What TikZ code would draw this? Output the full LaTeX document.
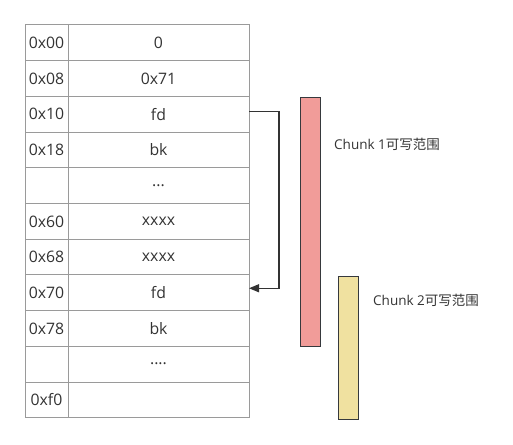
\documentclass[tikz,border=0pt]{standalone}
\usepackage{fontspec}
\setmainfont{Open Sans}
\newfontfamily\cjk{Noto Sans CJK SC}
\usetikzlibrary{positioning,arrows.meta}
\definecolor{cellline}{HTML}{9A9A9A}
\definecolor{darkline}{HTML}{36393D}
\definecolor{textgray}{HTML}{333333}
\definecolor{chunkred}{HTML}{F19C99}
\definecolor{chunkyellow}{HTML}{F0E1A0}
\newcommand{\threedots}{...}
\newcommand{\fourdots}{....}
\tikzset{addr node/.style={rectangle,draw=cellline,line width=1pt,minimum width=43pt,minimum height=35.7pt,inner sep=0pt,outer sep=0pt,text=textgray,font=\fontsize{15.8}{17}\selectfont}}
\tikzset{val node/.style={addr node,minimum width=181pt}}
\tikzset{bar node/.style={rectangle,draw=darkline,line width=1.4pt,minimum width=20pt,inner sep=0pt}}
\tikzset{label node/.style={anchor=west,inner sep=0pt,text=textgray,font=\fontsize{13.5}{15}\selectfont}}

\begin{document}
\begin{tikzpicture}[x=1pt,y=-1pt]
    \useasboundingbox (0,0) rectangle (513,444);
    \node[addr node,anchor=north west] (a1) at (25,25) {0x00};
    \node[val node] (v1) [right = 0pt of a1] {0};
    \foreach \addr/\val [count=\i from 2, evaluate=\i as \prev using int(\i-1)] in
        {0x08/0x71, 0x10/fd, 0x18/bk, {}/\threedots, 0x60/xxxx, 0x68/xxxx, 0x70/fd, 0x78/bk, {}/\fourdots, 0xf0/{}}
    {
        \node[addr node] (a\i) [below = 0pt of a\prev] {\addr};
        \node[val node] (v\i) [right = 0pt of a\i] {\val};
    }

    \node[bar node,fill=chunkred,minimum height=249pt,anchor=north west] (c1) at (300,97) {};
    \node[bar node,fill=chunkyellow,minimum height=143pt,anchor=north west] (c2) at (338,275.5) {};
    \node[label node] (l1) at (334,144) {Chunk 1{\cjk 可写范围}};
    \node[label node] (l2) at (373,300) {Chunk 2{\cjk 可写范围}};

    \draw[textgray,line width=1.2pt,-{Triangle[length=10pt,width=8pt]}] ([yshift=3pt]v3.east) -- ++(30,0) |- ([yshift=4.5pt]v8.east);
\end{tikzpicture}
\end{document}
